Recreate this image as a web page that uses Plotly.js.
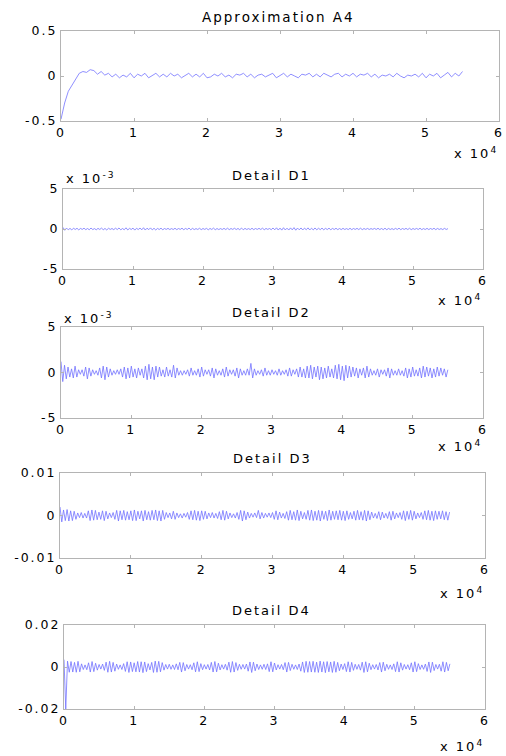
<!DOCTYPE html>
<html>
<head>
<meta charset="utf-8">
<script src="https://cdn.plot.ly/plotly-3.0.1.min.js"></script>
<style>html,body{margin:0;padding:0;background:#fff;}#chart{width:506px;height:756px;}svg text{letter-spacing:2px;}</style>
</head>
<body>
<div id="chart"></div>
<script>
// ---- data ----
var titles = ["Approximation A4", "Detail D1", "Detail D2", "Detail D3", "Detail D4"];
var xTickVals = [0, 10000, 20000, 30000, 40000, 50000, 60000];
var xTickText = ["0", "1", "2", "3", "4", "5", "6"];
var stepA = 500;   // sample spacing of A4 readout
var stepD = 250;   // sample spacing of detail readouts

var a4 = [-0.48,-0.30,-0.17,-0.10,-0.03,0.03,0.05,0.04,0.07,0.06,0.02,0.05,0.01,0.03,-0.01,0.02,-0.02,0.01,-0.01,0.03,
-0.02,0.02,0.00,0.03,-0.02,0.01,0.03,-0.01,0.02,-0.01,0.03,0.00,0.02,-0.02,0.01,0.03,-0.01,0.02,-0.01,0.03,
-0.02,-0.01,0.02,0.00,0.03,-0.01,0.01,-0.02,0.02,0.01,0.03,-0.01,0.02,-0.02,0.01,0.02,-0.01,0.01,0.03,-0.02,
0.01,0.03,-0.01,0.02,0.00,-0.02,0.02,0.01,0.03,-0.01,0.02,-0.01,0.03,0.01,-0.01,0.02,0.03,-0.01,0.02,0.00,
0.03,-0.01,0.02,0.01,0.03,-0.01,0.02,-0.02,0.01,0.00,0.02,-0.01,0.03,0.00,-0.02,0.01,0.00,0.02,-0.01,0.03,
-0.02,0.02,0.00,0.03,-0.02,0.01,0.04,-0.01,0.03,0.00,0.05];

// detail values in units of 1e-3
var d1Milli = [0.2,-0.16,0.12,-0.1,0.08,-0.12,0.1,-0.06,0.09,-0.11,0.07,-0.05,0.1,-0.08,0.06,-0.09,0.12,-0.07,0.05,-0.1,
0.08,-0.06,0.11,-0.09,0.07,-0.12,0.09,-0.05,0.06,-0.08,0.1,-0.07,0.13,-0.1,0.06,-0.09,0.15,-0.12,0.08,-0.06,
0.11,-0.14,0.09,-0.07,0.12,-0.1,0.16,-0.13,0.1,-0.08,0.14,-0.11,0.09,-0.12,0.07,-0.06,0.1,-0.09,0.06,-0.05,
0.08,-0.07,0.05,-0.06,0.09,-0.08,0.06,-0.05,0.1,-0.09,0.07,-0.06,0.12,-0.1,0.08,-0.07,0.05,-0.06,0.09,-0.08,
0.06,-0.05,0.08,-0.1,0.07,-0.06,0.11,-0.09,0.06,-0.07,0.05,-0.06,0.08,-0.07,0.1,-0.08,0.06,-0.05,0.09,-0.07,
0.07,-0.09,0.12,-0.1,0.08,-0.06,0.05,-0.07,0.09,-0.08,0.06,-0.05,0.08,-0.06,0.1,-0.09,0.07,-0.05,0.06,-0.08,
0.12,-0.1,0.15,-0.13,0.11,-0.14,0.16,-0.12,0.1,-0.13,0.14,-0.11,0.17,-0.15,0.12,-0.1,0.13,-0.12,0.11,-0.09,
0.14,-0.12,0.1,-0.11,0.13,-0.1,0.09,-0.08,0.11,-0.1,0.08,-0.07,0.1,-0.09,0.07,-0.06,0.09,-0.08,0.06,-0.07,
0.08,-0.06,0.05,-0.07,0.09,-0.08,0.06,-0.05,0.08,-0.07,0.1,-0.08,0.06,-0.05,0.07,-0.06,0.05,-0.04,0.07,-0.06,
0.09,-0.07,0.06,-0.08,0.1,-0.09,0.07,-0.06,0.05,-0.07,0.08,-0.06,0.1,-0.08,0.06,-0.05,0.08,-0.07,0.09,-0.08,
0.06,-0.05,0.07,-0.06,0.1,-0.08,0.05,-0.06,0.08,-0.07,0.06,-0.05,0.09,-0.08,0.07,-0.06,0.05,-0.07,0.08,-0.06,
0.05];

var d2Milli = [1.2,-1.0,0.8,-0.7,0.6,-0.5,0.4,-0.6,0.7,-0.5,0.3,-0.2,0.3,-0.4,0.6,-0.7,0.5,-0.4,0.3,-0.2,
0.2,-0.3,0.5,-0.6,0.7,-0.8,0.6,-0.5,0.4,-0.3,0.2,-0.2,0.3,-0.2,0.4,-0.5,0.6,-0.7,0.5,-0.6,
0.7,-0.5,0.4,-0.6,0.5,-0.3,0.4,-0.6,0.7,-0.8,0.9,-0.7,0.6,-0.8,0.7,-0.5,0.6,-0.4,0.3,-0.5,
0.6,-0.4,0.3,-0.5,0.8,-0.6,0.5,-0.3,0.2,-0.3,0.2,-0.2,0.3,-0.4,0.5,-0.3,0.2,-0.3,0.4,-0.5,
0.6,-0.4,0.3,-0.2,0.3,-0.4,0.5,-0.6,0.4,-0.3,0.2,-0.3,0.4,-0.5,0.6,-0.4,0.3,-0.2,0.3,-0.4,
0.5,-0.6,0.4,-0.3,0.2,-0.3,0.4,-0.3,1.0,-0.6,0.4,-0.3,0.2,-0.2,0.3,-0.4,0.5,-0.3,0.2,-0.3,
0.3,-0.2,0.2,-0.3,0.4,-0.3,0.2,-0.2,0.3,-0.4,0.5,-0.4,0.3,-0.2,0.4,-0.5,0.6,-0.5,0.4,-0.6,
0.7,-0.6,0.8,-0.7,0.6,-0.5,0.7,-0.8,0.6,-0.7,0.5,-0.6,0.7,-0.5,0.4,-0.6,0.8,-0.7,0.9,-0.8,
0.7,-0.9,0.8,-0.6,0.7,-0.5,0.6,-0.4,0.5,-0.6,0.4,-0.3,0.5,-0.6,0.7,-0.5,0.4,-0.3,0.2,-0.3,
0.4,-0.5,0.3,-0.2,0.3,-0.4,0.5,-0.6,0.4,-0.3,0.2,-0.3,0.4,-0.3,0.2,-0.4,0.5,-0.6,0.4,-0.5,
0.6,-0.4,0.3,-0.4,0.5,-0.6,0.7,-0.5,0.6,-0.4,0.5,-0.6,0.4,-0.5,0.6,-0.4,0.5,-0.3,0.4,-0.5,
0.3];

var d3Milli = [2.0,-1.5,1.3,-1.2,1.4,-1.3,1.1,-1.2,1.0,-0.9,0.6,-0.5,0.7,-0.6,0.5,-0.6,1.1,-1.2,1.3,-1.1,
1.2,-1.0,0.8,-0.9,1.1,-1.2,1.0,-0.8,0.6,-0.5,0.7,-0.9,1.2,-1.3,1.1,-1.0,1.2,-1.1,0.9,-1.0,
1.1,-1.2,1.3,-1.2,1.0,-0.8,1.1,-1.3,1.2,-1.0,0.9,-1.1,1.2,-1.0,1.3,-1.2,1.1,-1.3,1.2,-0.9,
0.7,-0.5,0.6,-0.8,1.0,-0.9,0.6,-0.5,0.4,-0.6,0.5,-0.4,0.7,-0.9,1.1,-1.0,1.2,-1.1,1.0,-1.2,
1.1,-0.9,1.0,-0.8,0.6,-0.5,0.7,-0.6,0.5,-0.7,0.9,-1.0,1.2,-1.1,1.0,-0.8,0.6,-0.5,0.4,-0.6,
0.7,-0.9,1.2,-1.3,1.1,-1.0,0.8,-0.6,0.5,-0.4,0.6,-0.5,1.2,-0.8,0.7,-0.6,0.5,-0.4,0.6,-0.5,
0.7,-0.9,1.1,-1.0,0.8,-0.6,0.5,-0.7,0.9,-1.1,1.2,-1.0,0.9,-1.1,1.3,-1.2,1.0,-0.8,0.7,-0.9,
1.2,-1.1,1.3,-1.2,1.0,-1.1,1.2,-1.3,1.1,-0.9,1.0,-1.2,1.3,-1.1,1.0,-0.9,1.1,-1.0,1.2,-1.1,
1.0,-1.2,1.1,-0.9,0.7,-0.8,1.0,-1.1,1.2,-1.0,0.9,-1.1,1.2,-1.3,1.1,-1.0,0.8,-0.6,0.5,-0.7,
0.9,-1.0,0.8,-0.6,0.5,-0.7,0.9,-1.1,1.0,-0.8,0.6,-0.5,0.7,-0.9,1.1,-1.2,1.0,-0.9,1.2,-1.1,
1.0,-0.8,0.6,-0.5,0.7,-0.9,1.1,-1.0,1.2,-1.1,1.0,-1.2,1.1,-0.9,1.0,-0.8,1.1,-1.0,0.9,-1.1,
0.8];

var d4Milli = [3.5,-20,2.8,-2.5,2.6,-2.4,2.2,-2.5,2.7,-2.3,1.5,-1.2,1.0,-1.3,2.0,-2.4,2.6,-2.2,1.8,-1.5,
1.2,-1.0,1.4,-1.6,2.3,-2.5,2.7,-2.4,2.2,-2.0,1.4,-1.1,1.0,-1.2,1.6,-2.1,2.5,-2.6,2.4,-2.2,
2.0,-2.3,2.6,-2.4,2.5,-2.7,2.4,-2.2,1.6,-1.4,2.2,-2.6,2.8,-2.5,2.7,-2.3,2.1,-1.5,1.2,-1.0,
1.3,-1.1,1.0,-1.2,1.5,-1.3,2.2,-2.4,2.1,-1.8,1.2,-1.0,1.1,-1.3,2.0,-2.3,2.5,-2.2,1.6,-1.3,
1.1,-1.0,1.2,-1.4,2.2,-2.4,2.6,-2.3,1.8,-1.4,1.1,-1.0,1.3,-1.5,2.3,-2.5,2.6,-2.4,2.1,-1.6,
1.3,-1.1,1.2,-1.0,1.4,-2.0,2.4,-2.6,2.3,-1.8,1.4,-1.2,1.0,-1.1,1.3,-1.2,1.5,-2.2,2.5,-2.3,
1.9,-1.4,1.1,-1.0,1.2,-1.3,2.1,-2.4,2.2,-1.7,1.3,-1.1,1.0,-1.2,1.4,-2.0,2.4,-2.6,2.7,-2.5,
2.6,-2.4,2.7,-2.5,2.3,-2.6,2.8,-2.4,2.5,-2.7,2.6,-2.3,2.4,-2.6,2.7,-2.5,2.2,-1.8,1.4,-1.2,
1.6,-2.2,2.5,-2.4,2.2,-1.6,1.3,-1.1,1.2,-1.5,2.3,-2.6,2.5,-2.3,1.8,-1.3,1.1,-1.0,1.2,-1.4,
2.1,-2.4,2.3,-1.8,1.3,-1.1,1.0,-1.2,1.5,-2.2,2.5,-2.4,2.0,-1.5,1.2,-1.0,1.1,-1.3,2.0,-2.4,
2.5,-2.2,1.6,-1.2,1.0,-1.1,1.4,-2.1,2.4,-2.6,2.3,-1.7,1.2,-1.0,1.3,-2.0,2.5,-2.4,2.2,-1.8,
1.5];

var yRanges = [[-0.5, 0.5], [-0.005, 0.005], [-0.005, 0.005], [-0.01, 0.01], [-0.02, 0.02]];
var yTickVals = [[-0.5, 0, 0.5], [-0.005, 0, 0.005], [-0.005, 0, 0.005], [-0.01, 0, 0.01], [-0.02, 0, 0.02]];
var yTickText = [["-0.5", "0", "0.5"], ["-5", "0", "5"], ["-5", "0", "5"], ["-0.01", "0", "0.01"], ["-0.02", "0", "0.02"]];

// ---- build ----
function xs(n, step) { var r = []; for (var i = 0; i < n; i++) r.push(i * step); return r; }
function milli(arr) { return arr.map(function (v) { return v * 1e-3; }); }

var series = [a4, milli(d1Milli), milli(d2Milli), milli(d3Milli), milli(d4Milli)];
var steps = [stepA, stepD, stepD, stepD, stepD];

var H = 756, W = 506;
function py(p) { return 1 - p / H; }
function px(p) { return p / W; }
// plot-area boxes in pixels [left, right, top, bottom]
var boxes = [[61, 499, 31, 121], [63, 483, 189, 269], [61, 483, 327, 418], [60, 485, 473, 558], [64, 485, 625, 709]];
var titleY = [17, 175, 313, 458, 610];
var titleX = [278, 271, 271, 272, 271];
var titleSize = [13.5, 13, 13, 13, 13];

var font = "DejaVu Sans, Liberation Sans, Arial, sans-serif";
var lineCol = "#7272ff";
var axCol = "#b4b4b4";
var tickSize = 12.5;

var traces = [], layout = {
  width: W, height: H, margin: { l: 0, r: 0, t: 0, b: 0 },
  paper_bgcolor: "#fff", plot_bgcolor: "#fff", showlegend: false,
  font: { family: font, size: tickSize, color: "#000" }, annotations: []
};

for (var k = 0; k < 5; k++) {
  var sfx = k === 0 ? "" : String(k + 1);
  traces.push({
    type: "scatter", mode: "lines",
    x: xs(series[k].length, steps[k]), y: series[k],
    xaxis: "x" + sfx, yaxis: "y" + sfx,
    line: { color: lineCol, width: 0.8 }, hoverinfo: "skip"
  });
  var b = boxes[k];
  layout["xaxis" + sfx] = {
    domain: [px(b[0]), px(b[1])], anchor: "y" + sfx, range: [0, 60000],
    tickvals: xTickVals, ticktext: xTickText, ticks: "inside", ticklen: 3,
    tickcolor: axCol, showline: true, linecolor: axCol, linewidth: 1, mirror: "ticks",
    showgrid: false, zeroline: false, tickfont: { size: tickSize, family: font, color: "#000" }
  };
  layout["yaxis" + sfx] = {
    domain: [py(b[3]), py(b[2])], anchor: "x" + sfx, range: yRanges[k],
    tickvals: yTickVals[k], ticktext: yTickText[k], ticks: "inside", ticklen: 3,
    tickcolor: axCol, showline: true, linecolor: axCol, linewidth: 1, mirror: "ticks",
    showgrid: false, zeroline: false, tickfont: { size: tickSize, family: font, color: "#000" }
  };
  layout.annotations.push({
    xref: "paper", yref: "paper", x: px(titleX[k]), y: py(titleY[k]),
    text: titles[k], showarrow: false, xanchor: "center", yanchor: "middle",
    font: { size: titleSize[k], family: font, color: "#000" }
  });
  var xlabY = [153, 300, 446, 593, 746][k];
  layout.annotations.push({
    xref: "paper", yref: "paper", x: px(b[1] + 1), y: py(xlabY),
    text: "x 10<sup>4</sup>", showarrow: false, xanchor: "right", yanchor: "middle",
    font: { size: 13, family: font, color: "#000" }
  });
}
// exponent labels of the two milli-scaled axes
[[1, 178], [2, 318]].forEach(function (e) {
  layout.annotations.push({
    xref: "paper", yref: "paper", x: px(boxes[e[0]][0] + 1), y: py(e[1]),
    text: "x 10<sup>-3</sup>", showarrow: false, xanchor: "left", yanchor: "middle",
    font: { size: 13, family: font, color: "#000" }
  });
});

Plotly.newPlot("chart", traces, layout, { staticPlot: true, displayModeBar: false });
</script>
</body>
</html>
